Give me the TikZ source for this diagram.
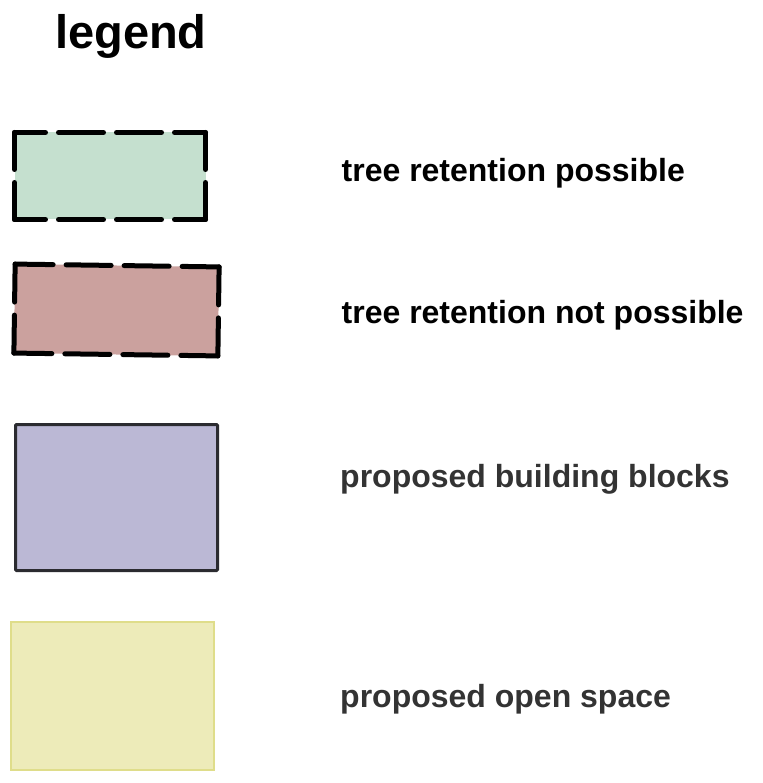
\documentclass[tikz,border=0pt]{standalone}
\usepackage{fontspec}
\setmainfont{Liberation Sans}
\definecolor{greenfill}{HTML}{C5E0CF}
\definecolor{redfill}{HTML}{CBA19E}
\definecolor{purplefill}{HTML}{BBB8D5}
\definecolor{purpleline}{HTML}{2B2B30}
\definecolor{yellowfill}{HTML}{EDEBB9}
\definecolor{yellowline}{HTML}{DFDD8A}
\definecolor{labelgray}{HTML}{333333}
\begin{document}
\begin{tikzpicture}[x=1pt,y=-1pt,
  boxfill/.style={rectangle,inner sep=0pt,outer sep=0pt,draw=none},
  dside/.style={draw=black,line width=5pt,line cap=round,dash pattern=on 45pt off 13pt},
  lbl/.style={anchor=base west,inner sep=0pt,font=\bfseries\fontsize{32}{38}\selectfont},
]
\useasboundingbox (0,0) rectangle (762,783);

\node[anchor=base west,inner sep=0pt,font=\bfseries\fontsize{47}{56}\selectfont] (title) at (55,49) {legend};

% tree retention possible
\node[boxfill,fill=greenfill,minimum width=191pt,minimum height=87pt] (g) at (110,176) {};
\draw[dside,dash phase=14pt] (g.north west) -- (g.north east);
\draw[dside,dash phase=14pt] (g.south west) -- (g.south east);
\draw[dside,dash phase=8pt] (g.north west) -- (g.south west);
\draw[dside,dash phase=8pt] (g.north east) -- (g.south east);
\node[lbl] (tg) at (341.5,182) {tree retention possible};

% tree retention not possible
\node[boxfill,fill=redfill,minimum width=204pt,minimum height=89pt,rotate=-0.8] (r) at (116.5,310) {};
\draw[dside,dash phase=7pt] (r.north west) -- (r.north east);
\draw[dside,dash phase=7pt] (r.south west) -- (r.south east);
\draw[dside,dash phase=7pt] (r.north west) -- (r.south west);
\draw[dside,dash phase=7pt] (r.north east) -- (r.south east);
\node[lbl] (tr) at (341.5,323) {tree retention not possible};

% proposed building blocks
\node[boxfill,fill=purplefill,draw=purpleline,line width=3pt,minimum width=202pt,minimum height=146pt,rounded corners=1pt] (p) at (116.5,497.5) {};
\node[lbl,text=labelgray] (tp) at (340,487) {proposed building blocks};

% proposed open space
\node[boxfill,fill=yellowfill,draw=yellowline,line width=2pt,minimum width=203pt,minimum height=148pt] (y) at (112.5,696) {};
\node[lbl,text=labelgray] (ty) at (340,707) {proposed open space};
\end{tikzpicture}
\end{document}
